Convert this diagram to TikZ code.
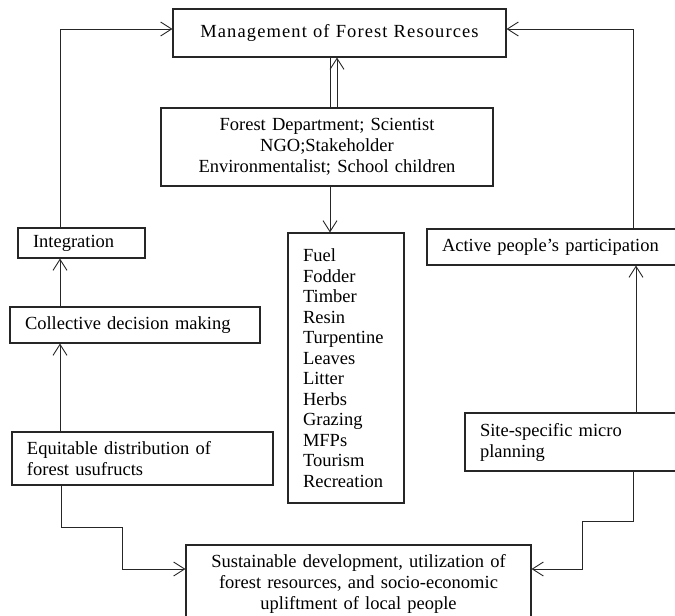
\documentclass[tikz,border=0pt]{standalone}
\usepackage{fontspec}
\setmainfont{Liberation Serif}
\usetikzlibrary{arrows.meta}
\newcommand\fsz{\fontsize{18.5pt}{21pt}\selectfont}
\tikzset{
  box/.style={draw=black!85, line width=1.1pt, font=\fsz, text=black, inner ysep=0pt, inner xsep=5pt, align=center},
  lbox/.style={box, inner xsep=15pt, align=left},
  conn/.style={draw=black!85, line width=0.9pt},
  arr/.style={conn, -{Straight Barb[length=11pt,width=14pt,line width=0.9pt]}}
}
\begin{document}
\begin{tikzpicture}[x=1pt,y=-1pt]
\useasboundingbox (0,0) rectangle (675,616);
\clip (0,0) rectangle (675,616);
% nodes
\node[box, minimum height=48pt, text width=323pt] (top) at (339.5,33) {\addfontfeature{LetterSpace=6}Management of Forest Resources};
\node[box, minimum height=78pt, text width=322pt] (stake) at (327,147) {Forest Department; Scientist\\NGO;Stakeholder\\Environmentalist; School children};
\node[lbox, minimum height=270pt, text width=86pt, font=\fontsize{18.5pt}{20.5pt}\selectfont] (list) at (346,368) {Fuel\\Fodder\\Timber\\Resin\\Turpentine\\Leaves\\Litter\\Herbs\\Grazing\\MFPs\\Tourism\\Recreation};
\node[lbox, minimum height=30pt, text width=97pt] (integ) at (81.5,243) {Integration};
\node[lbox, minimum height=36pt, text width=220pt] (coll) at (135,325) {Collective decision making};
\node[lbox, minimum height=53pt, text width=231pt] (equit) at (142.5,458.5) {Equitable distribution of\\forest usufructs};
\node[lbox, minimum height=36pt, text width=223pt] (active) at (553.5,247) {Active people's participation};
\node[lbox, minimum height=58pt, text width=185pt] (site) at (572.5,442) {Site-specific micro\\planning};
\node[box, minimum height=78pt, text width=335pt] (bottom) at (358.5,584) {Sustainable development, utilization of\\forest resources, and socio-economic\\upliftment of local people};
% helper coordinates
\coordinate (lx) at (60,0);
\coordinate (rx) at (633,0);
\coordinate (ax) at (636,0);
\coordinate (sx) at (330,0);
\coordinate (sx2) at (337,0);
\coordinate (ltop) at (60,29);
\coordinate (rtop) at (633,29);
\coordinate (lb1) at (61,527);
\coordinate (lb2) at (122,527);
\coordinate (lb3) at (122,569);
\coordinate (rb1) at (633,521);
\coordinate (rb2) at (582,521);
\coordinate (rb3) at (582,569);
% connectors
\draw[arr] (integ.north -| lx) -- (ltop) -- ([yshift=4pt]top.west);
\draw[arr] (active.north -| rx) -- (rtop) -- ([yshift=4pt]top.east);
\draw[arr] (coll.north -| lx) -- (integ.south -| lx);
\draw[arr] (equit.north -| lx) -- (coll.south -| lx);
\draw[arr] (site.north -| ax) -- (active.south -| ax);
\draw[conn] (stake.north -| sx) -- (top.south -| sx);
\draw[arr] (stake.north -| sx2) -- (top.south -| sx2);
\draw[arr] (stake.south -| sx) -- (list.north -| sx);
\draw[arr] (equit.south -| lb1) -- (lb1) -- (lb2) -- (lb3) -- (bottom.west |- lb3);
\draw[arr] (site.south -| rb1) -- (rb1) -- (rb2) -- (rb3) -- (bottom.east |- rb3);
\end{tikzpicture}
\end{document}
